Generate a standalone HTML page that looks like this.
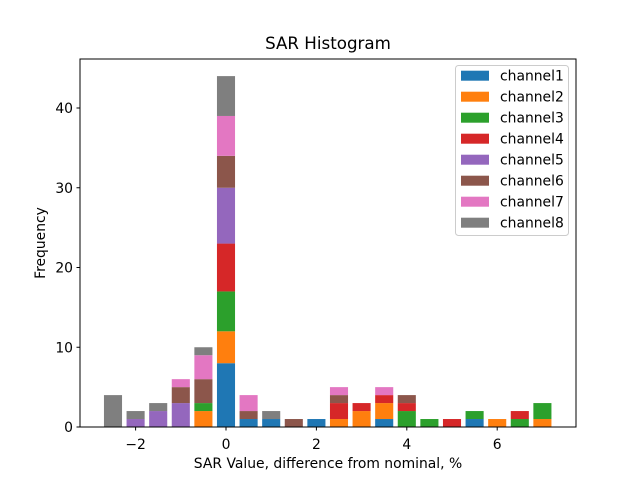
<!DOCTYPE html>
<html><head><meta charset="utf-8"><style>
body{margin:0;background:#fff;}
svg text{font-family:"DejaVu Sans","Liberation Sans",sans-serif;}
</style></head><body>
<svg id="chart" width="640" height="480" xmlns="http://www.w3.org/2000/svg">
<rect width="640" height="480" fill="#fff"/>
<text x="328" y="49" font-size="16.7" text-anchor="middle">SAR Histogram</text>
<g id="bars"></g>
<rect x="80" y="59" width="496" height="368" fill="none" stroke="#000" stroke-width="1"/>
<g id="axes"></g>
<text x="328" y="468" font-size="13.9" text-anchor="middle">SAR Value, difference from nominal, %</text>
<text transform="translate(45,243) rotate(-90)" font-size="13.9" text-anchor="middle">Frequency</text>
<g id="legend"></g>
</svg>
<script>
const bins = [-2.5,-2,-1.5,-1,-0.5,0,0.5,1,1.5,2,2.5,3,3.5,4,4.5,5,5.5,6,6.5,7];
const channelNames = ["channel1","channel2","channel3","channel4","channel5","channel6","channel7","channel8"];
const colors = ["#1f77b4","#ff7f0e","#2ca02c","#d62728","#9467bd","#8c564b","#e377c2","#7f7f7f"];
const ch1 = [0,0,0,0,0,8,1,1,0,1,0,0,1,0,0,0,1,0,0,0];
const ch2 = [0,0,0,0,2,4,0,0,0,0,1,2,2,0,0,0,0,1,0,1];
const ch3 = [0,0,0,0,1,5,0,0,0,0,0,0,0,2,1,0,1,0,1,2];
const ch4 = [0,0,0,0,0,6,0,0,0,0,2,1,1,1,0,1,0,0,1,0];
const ch5 = [0,1,2,3,0,7,0,0,0,0,0,0,0,0,0,0,0,0,0,0];
const ch6 = [0,0,0,2,3,4,1,0,1,0,1,0,0,1,0,0,0,0,0,0];
const ch7 = [0,0,0,1,3,5,2,0,0,0,1,0,1,0,0,0,0,0,0,0];
const ch8 = [4,1,1,0,1,5,0,1,0,0,0,0,0,0,0,0,0,0,0,0];
const series = [ch1,ch2,ch3,ch4,ch5,ch6,ch7,ch8];
const xTicks = [-2,0,2,4,6];
const yTicks = [0,10,20,30,40];
const NS="http://www.w3.org/2000/svg";
const xS = v => 226 + v*45.2;
const yS = v => 427 - v*7.975;
const barW = 0.4*45.2;
const bg = document.getElementById('bars');
for(let i=0;i<bins.length;i++){
  let base=0;
  for(let s=0;s<series.length;s++){
    const v=series[s][i]; if(!v) continue;
    const r=document.createElementNS(NS,'rect');
    r.setAttribute('x',xS(bins[i])-barW/2);
    r.setAttribute('width',barW);
    r.setAttribute('y',yS(base+v));
    r.setAttribute('height',yS(base)-yS(base+v));
    r.setAttribute('fill',colors[s]);
    
    
    bg.appendChild(r);
    base+=v;
  }
}
const ax=document.getElementById('axes');
xTicks.forEach(t=>{
  const l=document.createElementNS(NS,'line');
  l.setAttribute('x1',xS(t));l.setAttribute('x2',xS(t));l.setAttribute('y1',427);l.setAttribute('y2',430.5);l.setAttribute('stroke','#000');
  
  
  ax.appendChild(l);
  const tx=document.createElementNS(NS,'text');
  tx.setAttribute('x',xS(t));tx.setAttribute('y',449);tx.setAttribute('font-size','13.9');tx.setAttribute('text-anchor','middle');
  tx.textContent=(t<0?'\u2212'+(-t):t);
  
  
  ax.appendChild(tx);
});
yTicks.forEach(t=>{
  const l=document.createElementNS(NS,'line');
  l.setAttribute('x1',76.5);l.setAttribute('x2',80);l.setAttribute('y1',yS(t));l.setAttribute('y2',yS(t));l.setAttribute('stroke','#000');
  
  
  ax.appendChild(l);
  const tx=document.createElementNS(NS,'text');
  tx.setAttribute('x',73);tx.setAttribute('y',yS(t)+5);tx.setAttribute('font-size','13.9');tx.setAttribute('text-anchor','end');
  tx.textContent=t;
  
  
  ax.appendChild(tx);
});
const lg=document.getElementById('legend');
const box=document.createElementNS(NS,'rect');
box.setAttribute('x',455.5);box.setAttribute('y',65.5);box.setAttribute('width',113);box.setAttribute('height',170);box.setAttribute('rx',3);
box.setAttribute('fill','#fff');box.setAttribute('fill-opacity','0.8');box.setAttribute('stroke','#ccc');


lg.appendChild(box);
channelNames.forEach((n,i)=>{
  const y=75.7+i*21;
  const r=document.createElementNS(NS,'rect');
  r.setAttribute('x',461);r.setAttribute('y',y-5);r.setAttribute('width',28);r.setAttribute('height',10);r.setAttribute('fill',colors[i]);
  
  
  lg.appendChild(r);
  const t=document.createElementNS(NS,'text');
  t.setAttribute('x',500);t.setAttribute('y',y+5);t.setAttribute('font-size','13.9');t.textContent=n;
  
  
  lg.appendChild(t);
});
</script>
</body></html>
